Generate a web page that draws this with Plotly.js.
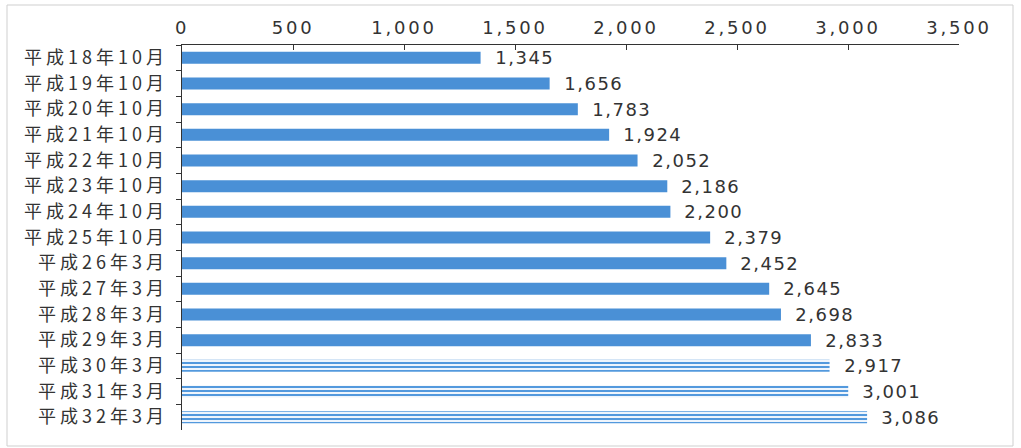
<!DOCTYPE html>
<html>
<head>
<meta charset="utf-8">
<script src="https://cdn.plot.ly/plotly-3.0.1.min.js"></script>
<style>
html, body { margin: 0; padding: 0; background: #fff; }
#chart { width: 1021px; height: 448px; }
#chart g.ytick text { letter-spacing: 4px; }
#chart g.xtick text { letter-spacing: 2.8px; }
#chart g.annotation text { letter-spacing: 1.5px; }
</style>
</head>
<body>
<div id="chart"></div>
<script>
const categories = [
  "平成18年10月", "平成19年10月", "平成20年10月", "平成21年10月", "平成22年10月",
  "平成23年10月", "平成24年10月", "平成25年10月", "平成26年3月", "平成27年3月",
  "平成28年3月", "平成29年3月", "平成30年3月", "平成31年3月", "平成32年3月"
];
const values = [1345, 1656, 1783, 1924, 2052, 2186, 2200, 2379, 2452, 2645, 2698, 2833, 2917, 3001, 3086];
// true = projected (striped) bar
const projected = [false, false, false, false, false, false, false, false, false, false, false, false, true, true, true];
const xTickValues = [0, 500, 1000, 1500, 2000, 2500, 3000, 3500];

const blue = "#4a90d6";
const stripeBlue = "#5399dd";
const stripeLight = "#c4d9ee";
const textColor = "#333333";
const fontFamily = "'DejaVu Sans', 'Noto Sans CJK JP', sans-serif";

const trace = {
  type: "bar",
  orientation: "h",
  x: values,
  y: categories,
  width: 0.47,
  marker: {
    color: projected.map(p => p ? stripeBlue : blue),
    line: { width: 0 },
    pattern: {
      shape: projected.map(p => p ? "-" : ""),
      bgcolor: stripeLight,
      fgopacity: 1,
      size: 4,
      solidity: 0.55,
      fillmode: "replace"
    }
  },
  hoverinfo: "x+y"
};

const annotations = values.map((v, i) => ({
  x: v,
  y: categories[i],
  xref: "x",
  yref: "y",
  text: v.toLocaleString("en-US"),
  showarrow: false,
  xanchor: "left",
  yanchor: "middle",
  xshift: 16,
  font: { family: fontFamily, size: 18, color: textColor }
}));

const layout = {
  width: 1021,
  height: 448,
  margin: { l: 182, r: 62, t: 45, b: 18 },
  paper_bgcolor: "#ffffff",
  plot_bgcolor: "#ffffff",
  showlegend: false,
  font: { family: fontFamily, size: 18, color: textColor },
  xaxis: {
    side: "top",
    range: [0, 3500],
    tickvals: xTickValues,
    ticktext: xTickValues.map(v => v.toLocaleString("en-US")),
    ticks: "inside",
    ticklen: 5,
    tickcolor: "#333",
    showline: true,
    linecolor: "#333",
    linewidth: 1.5,
    showgrid: false,
    zeroline: false,
    ticklabelstandoff: 2,
    tickfont: { family: fontFamily, size: 18, color: textColor }
  },
  yaxis: {
    type: "category",
    autorange: "reversed",
    ticks: "outside",
    tickson: "boundaries",
    ticklen: 5,
    tickcolor: "#333",
    showline: true,
    linecolor: "#333",
    linewidth: 1.5,
    showgrid: false,
    zeroline: false,
    ticklabelstandoff: 9,
    tickfont: { family: "'Noto Sans CJK JP', sans-serif", size: 18, color: textColor }
  },
  annotations: annotations,
  shapes: [{
    type: "rect",
    xref: "paper", yref: "paper",
    x0: (7 - 182) / 777, x1: (1013 - 182) / 777,
    y0: -16 / 385, y1: 1 + 40 / 385,
    line: { color: "#cfcfcf", width: 1 },
    fillcolor: "rgba(0,0,0,0)",
    layer: "below"
  }]
};

Plotly.newPlot("chart", [trace], layout, { displayModeBar: false, staticPlot: true });
</script>
</body>
</html>
